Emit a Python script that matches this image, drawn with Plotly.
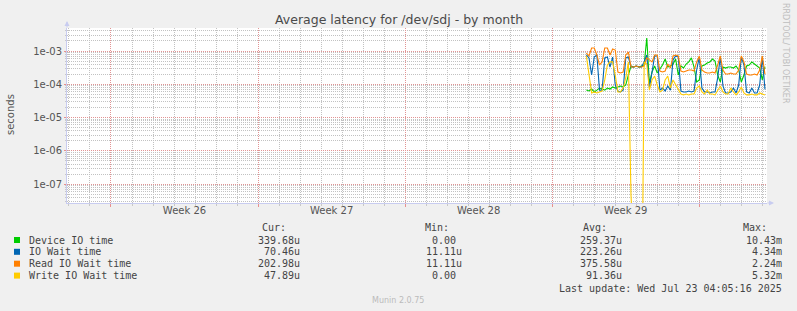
import pandas as pd
import plotly.graph_objects as go

# ---------------- data (seconds), 3-hour samples ----------------
times = pd.date_range("2025-07-14 15:00", periods=69, freq="3h")

device_io = [
    6.7e-5, 6.3e-5, 7.2e-5, 5.9e-5, 6.7e-5, 7.7e-5, 7.2e-5, 6.7e-5, 7.7e-5, 7.2e-5,
    8.3e-5, 7.7e-5, 8.3e-5, 8.9e-5, 8.3e-5, 9.5e-5, 1.9e-4, 3.55e-4, 3.3e-4, 3.55e-4,
    3.3e-4, 3.55e-4, 3.8e-4, 2.45e-3, 1.09e-4, 2.34e-4, 3.55e-4, 2.18e-4, 2.88e-4, 3.8e-4,
    5.75e-4, 3.3e-4, 3.55e-4, 4.07e-4, 5.75e-4, 1.9e-4, 3.55e-4, 3.08e-4, 4.07e-4, 4.7e-4,
    6.2e-4, 3.3e-4, 1.17e-4, 1.35e-4, 3.55e-4, 3.8e-4, 4.36e-4, 4.7e-4, 5.75e-4, 5.0e-4,
    1.9e-4, 1.17e-4, 3.3e-4, 3.08e-4, 3.3e-4, 3.3e-4, 3.08e-4, 3.55e-4, 2.69e-4, 1.17e-4,
    1.9e-4, 3.55e-4, 3.8e-4, 4.7e-4, 4.07e-4, 3.55e-4, 3.08e-4, 1.35e-4, 3.397e-4,
]
io_wait = [
    7.6e-4, 6.2e-4, 1.9e-4, 6.6e-4, 7.6e-4, 6.7e-5, 6.7e-5, 6.2e-4, 6.6e-4, 3.3e-4,
    6.6e-4, 9.5e-5, 6.3e-5, 5.9e-5, 6.7e-5, 6.2e-4, 6.6e-4, 3.3e-4, 3.3e-4, 3.55e-4,
    3.3e-4, 3.3e-4, 4.7e-4, 7.6e-4, 7.7e-5, 2.69e-4, 7.1e-4, 7.1e-4, 6.7e-5, 7.7e-5,
    6.3e-5, 8.9e-5, 6.7e-5, 5.4e-4, 7.1e-4, 6.6e-4, 6.3e-5, 5.9e-5, 5.9e-5, 6.3e-5,
    5.9e-5, 6.3e-5, 2.69e-4, 6.6e-4, 7.7e-5, 5.9e-5, 5.9e-5, 5.5e-5, 5.9e-5, 5.9e-5,
    1.55e-4, 6.6e-4, 8.9e-5, 5.5e-5, 5.5e-5, 5.9e-5, 7.7e-5, 5.5e-5, 9.5e-5, 6.6e-4,
    3.8e-4, 5.9e-5, 5.5e-5, 7.7e-5, 5.5e-5, 5.5e-5, 9.5e-5, 6.6e-4, 7.05e-5,
]
read_wait = [
    8.7e-4, 7.1e-4, 1.23e-3, 1.23e-3, 7.6e-4, 3.8e-4, 4.7e-4, 1.23e-3, 1.23e-3, 7.6e-4,
    1.15e-3, 1.07e-3, 2.34e-4, 2.18e-4, 2.34e-4, 7.6e-4, 9.3e-4, 3.3e-4, 3.3e-4, 3.55e-4,
    3.3e-4, 3.3e-4, 3.55e-4, 6.2e-4, 5.4e-4, 4.7e-4, 7.6e-4, 7.6e-4, 2.51e-4, 2.34e-4,
    2.51e-4, 4.07e-4, 3.08e-4, 7.1e-4, 7.6e-4, 7.1e-4, 2.51e-4, 2.34e-4, 2.51e-4, 2.69e-4,
    2.69e-4, 2.51e-4, 4.7e-4, 7.1e-4, 2.69e-4, 2.34e-4, 2.18e-4, 2.18e-4, 2.34e-4, 2.18e-4,
    3.8e-4, 7.1e-4, 2.69e-4, 2.04e-4, 2.04e-4, 2.18e-4, 2.04e-4, 2.04e-4, 2.69e-4, 7.1e-4,
    4.7e-4, 2.04e-4, 1.9e-4, 1.9e-4, 2.04e-4, 1.9e-4, 2.69e-4, 7.1e-4, 2.03e-4,
]
write_wait = [
    7.1e-4, 1.9e-4, 5.5e-5, 5.9e-5, 5.5e-5, 5.9e-5, 6.3e-5, 1.35e-4, 3.8e-4, 4.7e-4,
    4.7e-4, 1.9e-4, 5.9e-5, 5.9e-5, 7.7e-5, 1.55e-4, 4.7e-4, 4.5e-8, 0, 0,
    0, 0, 4.7e-4, 4.07e-4, 6.7e-5, 1.35e-4, 1.77e-4, 9.5e-5, 5.9e-5, 6.7e-5,
    1.35e-4, 1.77e-4, 7.7e-5, 1.35e-4, 9.5e-5, 6.7e-5, 5.1e-5, 4.8e-5, 5.1e-5, 4.8e-5,
    5.1e-5, 5.1e-5, 7.7e-5, 8.9e-5, 5.9e-5, 5.1e-5, 6.7e-5, 5.1e-5, 5.1e-5, 4.8e-5,
    6.7e-5, 8.9e-5, 5.9e-5, 5.1e-5, 5.1e-5, 7.7e-5, 5.9e-5, 4.8e-5, 5.9e-5, 8.3e-5,
    5.5e-5, 4.8e-5, 4.8e-5, 5.1e-5, 4.8e-5, 4.8e-5, 5.5e-5, 5.1e-5, 4.789e-5,
]

series_names = ["Device IO time", "IO Wait time", "Read IO Wait time", "Write IO Wait time"]
series_colors = ["#00CC00", "#0066B3", "#FF8000", "#FFCC00"]
cur_vals = ["339.68u", "70.46u", "202.98u", "47.89u"]
min_vals = ["0.00", "11.11u", "11.11u", "0.00"]
avg_vals = ["259.37u", "223.26u", "375.58u", "91.36u"]
max_vals = ["10.43m", "4.34m", "2.24m", "5.32m"]

week_labels = ["Week 26", "Week 27", "Week 28", "Week 29"]
week_label_pos = ["2025-06-25 12:00", "2025-07-02 12:00", "2025-07-09 12:00", "2025-07-16 12:00"]
y_tick_vals = [1e-7, 1e-6, 1e-5, 1e-4, 1e-3]
y_tick_text = ["1e-07", "1e-06", "1e-05", "1e-04", "1e-03"]

x_range = ["2025-06-19 21:45", "2025-07-23 05:20"]
y_range_log = [-7.565, -2.309]

# ---------------- layout geometry ----------------
W, H = 797, 311
L, R, T, B = 67, 30, 28, 108
PW, PH = W - L - R, H - T - B


def px(x):
    return (x - L) / PW


def py(y):
    return (H - B - y) / PH


MONO = "DejaVu Sans Mono"
SANS = "DejaVu Sans"
TXT = "#444444"
DOT = "1px,1px"
MAJ = "#E29494"
MIN = "#C2C2C2"

fig = go.Figure()
all_series = [device_io, io_wait, read_wait, write_wait]
for name, vals, col in zip(series_names, all_series, series_colors):
    yplot = [v if v > 0 else 1e-12 for v in vals]  # zero drawn to the floor on log scale
    fig.add_trace(go.Scatter(x=times, y=yplot, mode="lines", name=name,
                             line=dict(color=col, width=1.1), showlegend=False,
                             hoverinfo="skip"))

# helper trace for the label axis
fig.add_trace(go.Scatter(x=[], y=[], xaxis="x2", yaxis="y", showlegend=False))

minor_y = [k * 10.0 ** e for e in range(-8, -1) for k in range(2, 10)]

fig.update_layout(
    width=W, height=H,
    margin=dict(l=L, r=R, t=T, b=B, pad=0),
    paper_bgcolor="#F0F0F0", plot_bgcolor="#FFFFFF",
    xaxis=dict(type="date", range=x_range, showticklabels=False,
               tickmode="linear", tick0="2025-06-22", dtick=7 * 86400000,
               showgrid=True, gridcolor=MAJ, griddash=DOT, gridwidth=1,
               ticks="outside", ticklen=3, tickcolor="#E89090",
               minor=dict(tickmode="linear", tick0="2025-06-22", dtick=86400000,
                          showgrid=True, gridcolor=MIN, griddash=DOT,
                          ticks="outside", ticklen=2, tickcolor="#C8C8C8"),
               showline=True, linecolor="#C8CCF0", linewidth=1, zeroline=False),
    xaxis2=dict(type="date", range=x_range, overlaying="x", anchor="y", side="bottom",
                tickmode="array", tickvals=week_label_pos, ticktext=week_labels,
                showgrid=False, showline=False, ticks="", zeroline=False,
                tickfont=dict(family=SANS, size=10, color="#555555")),
    yaxis=dict(type="log", range=y_range_log, tickmode="array",
               tickvals=y_tick_vals, ticktext=y_tick_text,
               tickfont=dict(family=SANS, size=10, color="#555555"),
               showgrid=True, gridcolor=MAJ, griddash=DOT, gridwidth=1,
               ticks="outside", ticklen=2, tickcolor="#E89090",
               minor=dict(tickmode="array", tickvals=minor_y, showgrid=True,
                          gridcolor=MIN, griddash=DOT, ticks="outside",
                          ticklen=1, tickcolor="#C8C8C8"),
               showline=True, linecolor="#C8CCF0", linewidth=1, zeroline=False),
    showlegend=False,
)

ann = []
# title
ann.append(dict(text="Average latency for /dev/sdj - by month", x=px(398.5), y=py(19.5),
                xanchor="center", yanchor="middle",
                font=dict(family=SANS, size=12.5, color="#4A4A4A")))
# y axis title
ann.append(dict(text="seconds", x=px(10), y=py(115), textangle=-90,
                xanchor="center", yanchor="middle",
                font=dict(family=SANS, size=10, color="#555555")))
# vertical side watermark
ann.append(dict(text="RRDTOOL/ TOBI OETIKER", x=px(786), y=py(53), textangle=90,
                xanchor="center", yanchor="middle",
                font=dict(family=SANS, size=8, color="#BEBEBE")))
# footer
ann.append(dict(text="Munin 2.0.75", x=px(398), y=py(300), xanchor="center", yanchor="middle",
                font=dict(family=SANS, size=8, color="#BBBBBB")))
# axis arrows
ann.append(dict(text="", x=px(774), y=py(203), ax=-8, ay=0, showarrow=True, arrowhead=2,
                arrowsize=1, arrowwidth=1, arrowcolor="#C8CCF0"))
ann.append(dict(text="", x=px(67), y=py(21), ax=0, ay=8, showarrow=True, arrowhead=2,
                arrowsize=1, arrowwidth=1, arrowcolor="#C8CCF0"))

# legend table
headers = [("Cur:", 288), ("Min:", 450.5), ("Avg:", 608.5), ("Max:", 768.5)]
for h, xr in headers:
    ann.append(dict(text=h, x=px(xr), y=py(227.5), xanchor="right", yanchor="middle",
                    font=dict(family=MONO, size=10, color=TXT)))
rows_y = [240, 251.8, 263.7, 275.6]
shapes = []
for i in range(4):
    yy = rows_y[i]
    shapes.append(dict(type="rect", xref="paper", yref="paper",
                       x0=px(14), x1=px(20), y0=py(yy + 3), y1=py(yy - 3),
                       fillcolor=series_colors[i], line=dict(width=0)))
    ann.append(dict(text=series_names[i], x=px(26.5), y=py(yy), xanchor="left", yanchor="middle",
                    font=dict(family=MONO, size=10, color=TXT)))
    ann.append(dict(text=cur_vals[i], x=px(302), y=py(yy), xanchor="right", yanchor="middle",
                    font=dict(family=MONO, size=10, color=TXT)))
    mx = 463.5 if min_vals[i].endswith("u") else 457.5
    ann.append(dict(text=min_vals[i], x=px(mx), y=py(yy), xanchor="right", yanchor="middle",
                    font=dict(family=MONO, size=10, color=TXT)))
    ann.append(dict(text=avg_vals[i], x=px(623.5), y=py(yy), xanchor="right", yanchor="middle",
                    font=dict(family=MONO, size=10, color=TXT)))
    ann.append(dict(text=max_vals[i], x=px(783.5), y=py(yy), xanchor="right", yanchor="middle",
                    font=dict(family=MONO, size=10, color=TXT)))
ann.append(dict(text="Last update: Wed Jul 23 04:05:16 2025", x=px(783.5), y=py(288.3),
                xanchor="right", yanchor="middle", font=dict(family=MONO, size=10, color=TXT)))

for a in ann:
    a.setdefault("xref", "paper")
    a.setdefault("yref", "paper")
    a.setdefault("showarrow", False)
fig.update_layout(annotations=ann, shapes=shapes)

fig.write_html("out.html")
